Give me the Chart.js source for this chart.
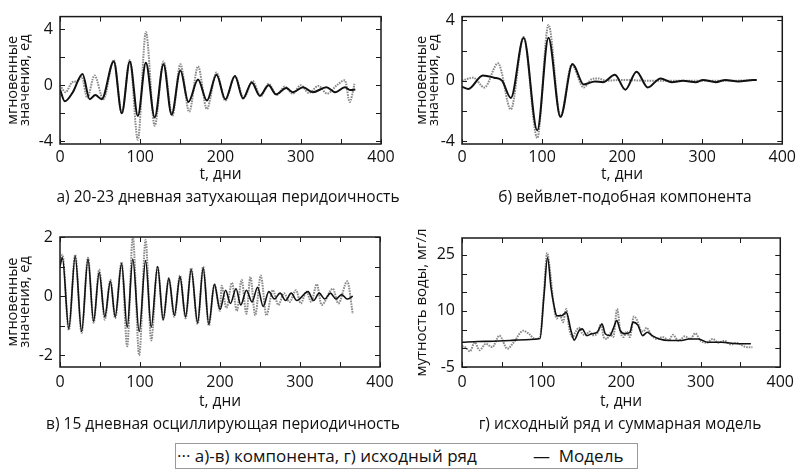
<!DOCTYPE html>
<html>
<head>
<meta charset="utf-8">
<script src="https://cdn.jsdelivr.net/npm/chart.js@4.4.0/dist/chart.umd.min.js"></script>
<style>
  body { margin: 0; background: #fff; width: 800px; height: 470px; position: relative; overflow: hidden; font-family: "Open Sans", sans-serif; color: #111; }
  canvas { position: absolute; }
  .cap { position: absolute; font-size: 15.5px; white-space: nowrap; transform: translate(-50%, -50%); }
  #legend { position: absolute; left: 175px; top: 443px; width: 463px; height: 26px; border: 1px solid #999; box-sizing: border-box; font-size: 17px; line-height: 24px; }
  #legend span { position: absolute; top: 0; white-space: nowrap; }
</style>
</head>
<body>
<canvas id="pa" width="400" height="186" style="left:0;top:0"></canvas>
<canvas id="pb" width="400" height="186" style="left:400px;top:0"></canvas>
<canvas id="pc" width="400" height="413" style="left:0;top:0"></canvas>
<canvas id="pd" width="400" height="413" style="left:400px;top:0"></canvas>

<div class="cap" style="left:228px;top:196px">а) 20-23 дневная затухающая перидоичность</div>
<div class="cap" style="left:625px;top:196px">б) вейвлет-подобная компонента</div>
<div class="cap" style="left:223px;top:423px">в) 15 дневная осциллирующая периодичность</div>
<div class="cap" style="left:620px;top:423px">г) исходный ряд и суммарная модель</div>
<div id="legend"><span style="left:1px">··· а)-в) компонента, г) исходный ряд</span><span style="left:357px">— &nbsp;Модель</span></div>

<script>
var xTicks = [0, 50, 100, 150, 200, 250, 300, 350, 400];
var xLabels = [0, 100, 200, 300, 400];

// а) 20-23 дневная затухающая периодичность
var aCompT = [0, 7, 15, 22, 27, 34, 43, 54, 67, 77, 87, 97, 107, 118, 129, 140, 150, 161, 172, 183, 195, 206, 218, 229, 240, 250, 260, 270, 280, 290, 300, 310, 322, 333, 345, 355, 361, 367];
var aCompV = [0, -0.5, 0.2, 0.3, 0.6, -0.9, 0.7, -1.0, 1.8, -2.0, 1.8, -3.9, 3.8, -2.9, 1.7, -2.2, 1.5, -1.9, 1.35, -1.7, 0.9, -1.1, 0.65, -0.9, 0.3, -0.8, 0.1, -0.7, -0.1, -0.6, 0.0, -0.55, -0.05, -0.6, 0.0, 0.35, -1.2, 0.1];
var aModelT = [0, 6, 16, 28, 37, 44, 52, 67, 77, 87, 97, 107, 118, 129, 139, 150, 160, 172, 183, 195, 206, 218, 228, 239, 249, 260, 269, 282, 290, 303, 315, 332, 343, 355, 362, 368];
var aModelV = [-0.3, -1.15, -0.5, 0.8, -1.0, -0.7, -1.0, 1.7, -2.0, 1.7, -2.2, 1.6, -2.3, 1.5, -2.1, 1.05, -1.2, 0.4, -1.1, 0.75, -1.0, 0.65, -0.95, 0.2, -0.75, 0.0, -0.65, -0.2, -0.5, -0.15, -0.5, -0.15, -0.5, -0.15, -0.35, -0.3];
var aYTicks = [-4, -2, 0, 2, 4];
var aYLabels = [-4, 0, 4];

// б) вейвлет-подобная компонента
var bCompT = [0, 14, 28, 45, 61, 77, 94, 108, 123, 137, 152, 162, 170, 180, 200, 230, 260, 300, 340, 368];
var bCompV = [0.0, 0.2, -0.45, 1.15, -1.9, 2.9, -3.8, 3.7, -2.4, 1.05, -0.45, 0.1, 0.15, 0.0, 0.05, 0.0, 0.0, 0.0, 0.0, 0.05];
var bModelT = [0, 8, 26, 40, 50, 61, 77, 94, 108, 123, 138, 152, 166, 176, 191, 204, 218, 232, 248, 262, 276, 292, 301, 317, 329, 345, 364, 368];
var bModelV = [-0.4, -0.55, 0.35, 0.2, 0.0, -1.15, 2.85, -3.3, 2.85, -2.4, 1.1, -0.25, -0.05, -0.1, 0.4, -0.6, 0.6, -0.45, 0.15, -0.1, 0.0, -0.1, 0.05, -0.1, 0.05, -0.05, 0.05, 0.05];
var bYTicks = [-4, -2, 0, 2, 4];
var bYLabels = [-4, 0, 4];

// в) 15 дневная осциллирующая периодичность
var cCompT = [0, 3, 11, 19, 27, 35, 42, 49, 56, 63, 69, 77, 84, 91, 99, 107, 114, 122, 129, 136, 143, 150, 157, 164, 172, 179, 186, 193, 200, 202, 208, 215, 221, 227, 233, 238, 244, 251, 258, 266, 273, 280, 287, 295, 301, 308, 314, 321, 327, 341, 348, 359, 366];
var cCompV = [1.1, 1.4, -1.15, 1.4, -1.25, 1.3, -0.9, 0.9, -0.8, 0.55, -0.75, 1.15, -1.7, 2.0, -2.0, 1.9, -1.5, 1.0, -0.8, 0.6, -0.7, 0.7, -0.75, 0.95, -0.95, 1.0, -1.0, 0.4, -0.5, 0.35, -0.4, 0.45, -0.5, 0.55, -0.6, 0.65, -0.65, 0.7, -0.65, 0.2, -0.3, 0.1, -0.2, 0.2, -0.25, 0.15, -0.2, 0.4, -0.3, 0.25, -0.25, 0.5, -0.6];
var cModelT = [0, 3, 11, 19, 27, 35, 42, 49, 56, 63, 69, 77, 84, 91, 99, 107, 114, 122, 129, 136, 143, 150, 157, 164, 172, 179, 186, 193, 200, 207, 213, 220, 226, 233, 240, 247, 254, 261, 268, 275, 282, 289, 296, 310, 317, 324, 331, 338, 345, 352, 359, 366];
var cModelV = [1.0, 1.3, -1.1, 1.35, -1.2, 1.25, -0.85, 0.8, -0.7, 0.5, -0.7, 1.1, -1.05, 1.25, -1.2, 1.2, -1.05, 1.0, -0.8, 0.6, -0.65, 0.65, -0.7, 0.9, -0.9, 0.95, -0.95, 0.4, -0.45, 0.2, -0.25, 0.25, -0.3, 0.2, -0.2, 0.3, -0.35, 0.15, -0.1, 0.1, -0.15, 0.1, -0.15, 0.15, -0.15, 0.1, -0.1, 0.1, -0.1, 0.05, -0.1, 0.0];
var cYTicks = [-2, -1, 0, 1, 2];
var cYLabels = [-2, 0, 2];

// г) исходный ряд и суммарная модель
var dCompT = [0, 4, 10, 16, 22, 30, 38, 47, 57, 65, 77, 84, 92, 98, 103, 107, 111, 115, 119, 123, 127, 131, 135, 139, 143, 147, 151, 155, 160, 165, 170, 175, 178, 182, 186, 190, 195, 199, 203, 207, 211, 216, 220, 224, 228, 232, 238, 245, 252, 260, 265, 272, 280, 287, 293, 300, 308, 315, 322, 330, 338, 345, 352, 358, 365];
var dCompV = [0.5, 0.3, -0.8, 1.6, -0.5, 1.2, 0.3, 3.4, -0.1, 1.6, 4.7, 3.9, 2.5, 3.0, 15, 25.5, 20, 12, 8, 9, 7, 10.5, 5, 3, 4.5, 5.5, 4, 3.5, 4.5, 3.5, 4, 6.5, 3, 2.5, 4, 3, 10.5, 4.5, 3, 4.5, 3, 8.5, 7.5, 5, 4.5, 5.5, 3.5, 2.5, 3.0, 2.2, 3.6, 2.0, 3.2, 2.5, 4.0, 2.0, 1.5, 2.5, 1.5, 2.0, 1.0, 1.5, 0.8, 0.3, 0.3];
var dModelT = [0, 20, 40, 60, 80, 98, 103, 107.5, 112, 116, 119, 125, 131, 137, 141, 147, 151, 157, 163, 170, 176, 180, 186, 190, 194.5, 199, 205, 211, 215, 221, 227, 233, 239, 248, 260, 276, 285, 297, 309, 326, 346, 363];
var dModelV = [1.6, 1.8, 1.9, 2.1, 2.3, 2.6, 14, 24.2, 16, 11, 8.7, 8.7, 9.6, 4.7, 2.2, 4.7, 5.2, 3.4, 3.9, 4.3, 6.5, 3.9, 3.4, 5.2, 7.4, 4.7, 3.9, 4.3, 7.0, 6.2, 3.4, 4.3, 3.4, 2.5, 2.1, 2.1, 2.5, 2.5, 1.6, 1.6, 1.2, 1.2];
var dYTicks = [-5, 0, 5, 10, 15, 20, 25];
var dYLabels = [-5, 10, 25];

function pts(t, v) {
  return t.map(function(x, i) { return { x: x, y: v[i] }; });
}

// рамка и внутренние засечки
var framePlugin = {
  id: 'frame',
  afterDraw: function(chart) {
    var a = chart.chartArea, ctx = chart.ctx;
    var xs = chart.scales.x, ys = chart.scales.y;
    ctx.save();
    ctx.strokeStyle = '#1a1a1a';
    ctx.lineWidth = 1.5;
    ctx.strokeRect(a.left, a.top, a.right - a.left, a.bottom - a.top);
    ctx.beginPath();
    xs.ticks.forEach(function(t) {
      var p = Math.round(xs.getPixelForValue(t.value)) + 0.5;
      ctx.moveTo(p, a.bottom); ctx.lineTo(p, a.bottom - 5);
      ctx.moveTo(p, a.top); ctx.lineTo(p, a.top + 5);
    });
    ys.ticks.forEach(function(t) {
      var p = Math.round(ys.getPixelForValue(t.value)) + 0.5;
      ctx.moveTo(a.left, p); ctx.lineTo(a.left + 5, p);
      ctx.moveTo(a.right, p); ctx.lineTo(a.right - 5, p);
    });
    ctx.lineWidth = 1;
    ctx.stroke();
    ctx.restore();
  }
};

function makePanel(id, p) {
  new Chart(document.getElementById(id), {
    type: 'line',
    data: {
      datasets: [
        {
          label: 'Модель',
          data: pts(p.modelT, p.modelV),
          borderColor: '#111',
          borderWidth: p.modelWidth,
          pointRadius: 0,
          cubicInterpolationMode: 'monotone'
        },
        {
          label: 'компонента',
          data: pts(p.compT, p.compV),
          borderColor: '#8a8a8a',
          borderWidth: 2,
          borderDash: [1.6, 1],
          pointRadius: 0,
          cubicInterpolationMode: 'monotone'
        }
      ]
    },
    options: {
      responsive: false,
      animation: false,
      layout: { padding: { top: p.top, right: p.right, left: 0, bottom: 0 } },
      plugins: { legend: { display: false }, tooltip: { enabled: false } },
      scales: {
        x: {
          type: 'linear',
          min: 0, max: 400,
          afterBuildTicks: function(s) { s.ticks = xTicks.map(function(v) { return { value: v }; }); },
          afterFit: function(s) { s.height = p.xHeight; },
          grid: { display: false, drawTicks: false },
          border: { display: false },
          ticks: {
            padding: p.xPad,
            maxRotation: 0,
            autoSkip: false,
            color: '#111',
            font: { family: 'Open Sans', size: 16 },
            callback: function(v) { return xLabels.indexOf(v) >= 0 ? String(v) : ''; }
          },
          title: {
            display: true,
            text: 't, дни',
            color: '#111',
            font: { family: 'Open Sans', size: 15.5, lineHeight: 1.2 },
            padding: { top: 0, bottom: 2 }
          }
        },
        y: {
          type: 'linear',
          min: p.yMin, max: p.yMax,
          afterBuildTicks: function(s) { s.ticks = p.yTicks.map(function(v) { return { value: v }; }); },
          afterFit: function(s) { s.width = p.yWidth; },
          grid: { display: false, drawTicks: false },
          border: { display: false },
          ticks: {
            padding: 7,
            autoSkip: false,
            color: '#111',
            font: { family: 'Open Sans', size: 16 },
            callback: function(v) { return p.yLabels.indexOf(v) >= 0 ? String(v) : ''; }
          },
          title: {
            display: true,
            text: p.yTitle,
            color: '#111',
            font: { family: 'Open Sans', size: p.yTitleSize, lineHeight: 0.8 },
            padding: { top: p.titlePad, bottom: 0 }
          }
        }
      }
    },
    plugins: [framePlugin]
  });
}

var instTitle = ['мгновенные', 'значения, ед'];

makePanel('pa', { compT: aCompT, compV: aCompV, modelT: aModelT, modelV: aModelV, modelWidth: 2,
  yMin: -4.2, yMax: 4.9, yTicks: aYTicks, yLabels: aYLabels, yTitle: instTitle, yTitleSize: 14.5,
  top: 14, right: 19, yWidth: 60, xHeight: 42, xPad: 4, titlePad: 7 });
makePanel('pb', { compT: bCompT, compV: bCompV, modelT: bModelT, modelV: bModelV, modelWidth: 2,
  yMin: -4.2, yMax: 4.25, yTicks: bYTicks, yLabels: bYLabels, yTitle: instTitle, yTitleSize: 14.5,
  top: 12, right: 13, yWidth: 62, xHeight: 42, xPad: 4, titlePad: 16 });
makePanel('pc', { compT: cCompT, compV: cCompV, modelT: cModelT, modelV: cModelV, modelWidth: 1.6,
  yMin: -2.4, yMax: 2, yTicks: cYTicks, yLabels: cYLabels, yTitle: instTitle, yTitleSize: 14.5,
  top: 237, right: 20, yWidth: 60, xHeight: 46, xPad: 6, titlePad: 7 });
makePanel('pd', { compT: dCompT, compV: dCompV, modelT: dModelT, modelV: dModelV, modelWidth: 1.6,
  yMin: -5, yMax: 29.5, yTicks: dYTicks, yLabels: dYLabels, yTitle: 'мутность воды, мг/л', yTitleSize: 15,
  top: 238, right: 13, yWidth: 62, xHeight: 46, xPad: 6, titlePad: 16 });
</script>
</body>
</html>
